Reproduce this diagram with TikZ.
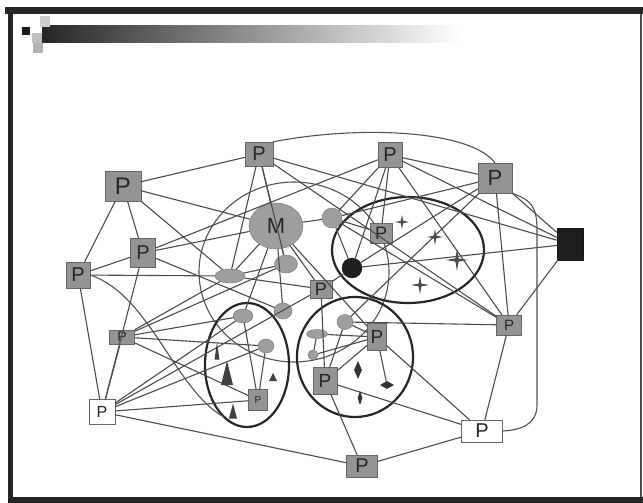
\documentclass[tikz,border=0pt]{standalone}
\usepackage{fontspec}
\setsansfont{Liberation Sans}
\usetikzlibrary{shapes.geometric}
\newcommand\mystar[4]{\fill[black!70] (#1,#2-#3) -- (#1+#4,#2-#4) -- (#1+#3,#2) -- (#1+#4,#2+#4) -- (#1,#2+#3) -- (#1-#4,#2+#4) -- (#1-#3,#2) -- (#1-#4,#2-#4) -- cycle;}
\newcommand\mytri[4]{\fill[black!75] (#1-#3/2,#2+#4/2) -- (#1,#2-#4/2) -- (#1+#3/2,#2+#4/2) -- cycle;}
\begin{document}
\begin{tikzpicture}[x=1pt,y=-1pt,
  pbox/.style={rectangle, draw=black!60, fill=black!42, inner sep=0pt, text=black!85, font=\sffamily\fontsize{#1}{#1}\selectfont},
  pbox/.default=20,
  wbox/.style={pbox=#1, fill=white},
  wbox/.default=18,
  dot/.style={ellipse, draw=black!55, fill=black!38, inner sep=0pt},
  bdot/.style={ellipse, draw=black!90, fill=black!88, inner sep=0pt},
  dia/.style={diamond, fill=black!80, inner sep=0pt},
  ln/.style={draw=black!70, line width=1.1pt},
  grp/.style={draw=black!85, line width=2.2pt},
  arcl/.style={draw=black!68, line width=1.1pt}]
\useasboundingbox (0,0) rectangle (643,503);
\fill[white] (0,0) rectangle (643,503);
% frame
\fill[black!85] (5,7) rectangle (643,14);
\fill[black!85] (8,7) rectangle (13,503);
\fill[black!85] (8,497) rectangle (643,503);
\draw[black!70, line width=1.5pt] (641,14) -- (641,497);
% title bar
\shade[left color=black!85, middle color=black!50, right color=white] (42,26) rectangle (460,43);
\fill[black!90] (22,27) rectangle (30,35);
\fill[black!20] (40,16) rectangle (50,27);
\fill[black!25] (32,33) rectangle (42,43);
\fill[black!30] (33,43) rectangle (43,53);

% group shapes
\draw[arcl] (294,272) ellipse [x radius=95, y radius=90];
\draw[grp] (247,365) ellipse [x radius=42, y radius=62];
\draw[grp] (355,357) ellipse [x radius=58, y radius=60];
\draw[grp] (408,250) ellipse [x radius=76, y radius=53];

% nodes
\node[pbox=20, minimum width=28, minimum height=24] (pA) at (259,154) {P};
\node[pbox=20, minimum width=24, minimum height=25] (pB) at (390,155) {P};
\node[pbox=22, minimum width=34, minimum height=30] (pC) at (495,178) {P};
\node[pbox=24, minimum width=36, minimum height=30] (pD) at (123,186) {P};
\node[pbox=20, minimum width=25, minimum height=29] (pE) at (143,253) {P};
\node[pbox=20, minimum width=24, minimum height=26] (pF) at (78,275) {P};
\node[pbox=14, minimum width=25, minimum height=14] (pG) at (122,337) {P};
\node[wbox=16, minimum width=26, minimum height=25] (pH) at (102,412) {P};
\node[pbox=10, minimum width=19, minimum height=21] (pI) at (258,400) {P};
\node[pbox=18, minimum width=22, minimum height=18] (pJ) at (321,289) {P};
\node[pbox=18, minimum width=22, minimum height=20] (pK) at (381,233) {P};
\node[pbox=19, minimum width=19, minimum height=27] (pL) at (377,337) {P};
\node[pbox=19, minimum width=24, minimum height=27] (pM) at (325,381) {P};
\node[pbox=15, minimum width=25, minimum height=20] (pN) at (509,325) {P};
\node[wbox=20, minimum width=41, minimum height=22] (pO) at (482,431) {P};
\node[pbox=20, minimum width=31, minimum height=22] (pQ) at (362,466) {P};
\node[rectangle, draw=black!90, fill=black!88, minimum width=26, minimum height=32, inner sep=0pt] (sq) at (570,244) {};

\node[dot, minimum width=54, minimum height=46, font=\sffamily\fontsize{22}{22}\selectfont, text=black!85] (M) at (276,226) {M};
\node[dot, minimum width=23, minimum height=18] (c1) at (286,264) {};
\node[dot, minimum width=30, minimum height=14] (e1) at (230,276) {};
\node[dot, minimum width=20, minimum height=20] (c2) at (332,218) {};
\node[bdot, minimum width=20, minimum height=20] (bc) at (352,268) {};
\node[dot, minimum width=18, minimum height=16] (c3) at (283,311) {};
\node[dot, minimum width=20, minimum height=14] (e2) at (243,316) {};
\node[dot, minimum width=16, minimum height=14] (c4) at (266,346) {};
\node[dot, minimum width=16, minimum height=15] (c5) at (345,322) {};
\node[dot, minimum width=21, minimum height=9] (e3) at (317,334) {};
\node[dot, minimum width=10, minimum height=10] (c6) at (313,355) {};
\node[dia, minimum width=14, minimum height=8] (d3) at (387,385) {};

% edges
\foreach \a/\b in {pD/pA, pD/pE, pD/pF, pD/e1, pD/M,
  pF/pE, pF/e1, pF/pH,
  pE/pH, pE/M, pE/pB, pE/c3,
  pA/e1, pA/M, pA/pN, pA/sq, pA/c1,
  pB/c2, pB/pK, pB/bc, pB/pC, pB/pN, pB/sq,
  pC/c2, pC/bc, pC/pN, pC/sq, pC/c5,
  sq/bc, sq/pN,
  M/c2, M/c1, M/pJ, M/e1, M/e2, M/c3, M/pL,
  c2/pK, c2/bc, c2/pN,
  bc/pJ, e1/pJ, e1/c1,
  pG/pH, pG/e1, pG/c1, pG/e2, pG/c4, pG/pI,
  pH/pI, pH/pQ, pH/pJ, pH/c4, pH/e2,
  pI/e2, pI/c4,
  c5/pN, c5/pL, c5/pM,
  e3/pL, e3/c6, c6/pL,
  pM/pL, pM/pQ, pM/pO, pM/pJ,
  pL/pO, pL/d3,
  pN/pO, pO/pQ}
  \draw[ln] (\a) -- (\b);

% arcs
\coordinate (fEnd) at (224,417);
\draw[arcl] (pF.east) .. controls (150,295) and (175,390) .. (fEnd);
\draw[arcl] (pA.north east) .. controls (360,125) and (470,130) .. (pC.north);
\draw[arcl] (pC.south east) .. controls (530,200) and (537,205) .. (537,230) -- (537,405) .. controls (537,425) and (520,430) .. (pO.east);

% symbols
\mystar{402}{222}{7}{1.2}
\mystar{435}{237}{8}{1.3}
\mystar{457}{260}{11}{1.6}
\mystar{420}{285}{9}{1.4}
\mytri{217}{351}{5}{17}
\mytri{227}{373}{12}{24}
\mytri{273}{377}{8}{8}
\mytri{233}{411}{8}{15}
\node[dia, minimum width=8, minimum height=18] (d1) at (358,370) {};
\node[dia, minimum width=5, minimum height=14] (d2) at (360,398) {};
\end{tikzpicture}
\end{document}
